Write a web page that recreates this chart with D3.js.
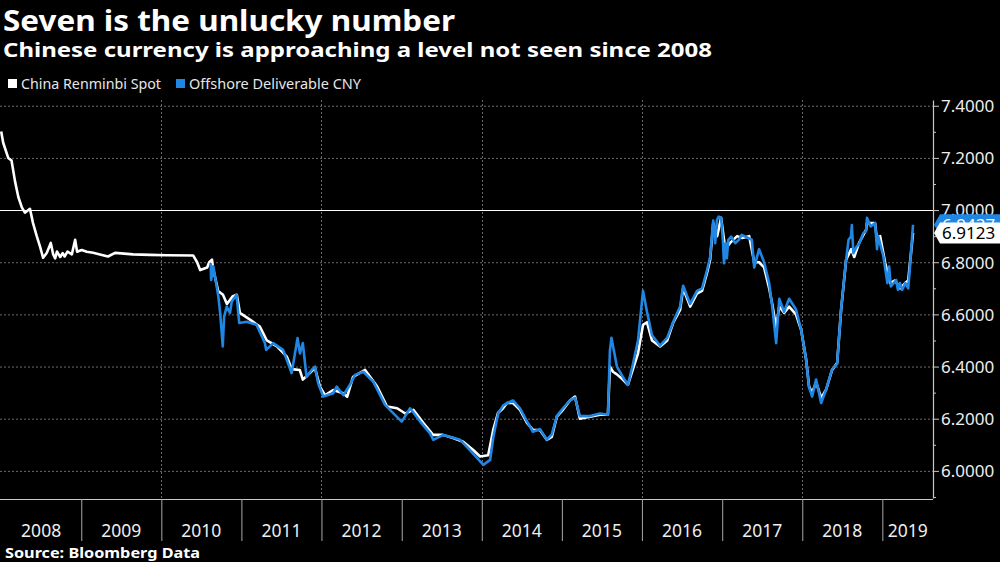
<!DOCTYPE html>
<html>
<head>
<meta charset="utf-8">
<script src="https://cdn.jsdelivr.net/npm/d3@7"></script>
<style>
  html, body { margin: 0; padding: 0; background: #000; }
  svg { display: block; }
</style>
</head>
<body>
<svg id="chart" width="1000" height="562"></svg>
<script>
// ---------------- DATA ----------------
const titleText = "Seven is the unlucky number";
const subtitleText = "Chinese currency is approaching a level not seen since 2008";
const sourceText = "Source: Bloomberg Data";
const seriesNames = ["China Renminbi Spot", "Offshore Deliverable CNY"];
const yearLabels = ["2008","2009","2010","2011","2012","2013","2014","2015","2016","2017","2018","2019"];
const yTicks = [6.0, 6.2, 6.4, 6.6, 6.8, 7.0, 7.2, 7.4];
const yMinorTicks = [5.9, 6.1, 6.3, 6.5, 6.7, 6.9, 7.1, 7.3];
const gridYears = ["2010","2012","2014","2016","2018"];
const refLevel = 7.0;
const lastOnshore = 6.9123;
const lastOffshore = 6.9437;

// China Renminbi Spot (onshore CNY)
const onshore = [
  ["2008-01-02",7.301],["2008-01-11",7.258],["2008-02-03",7.20],["2008-02-18",7.19],
  ["2008-03-05",7.11],["2008-03-20",7.05],["2008-04-05",7.01],["2008-04-19",6.99],
  ["2008-05-12",7.005],["2008-05-26",6.95],["2008-06-12",6.90],["2008-06-27",6.86],
  ["2008-07-11",6.817],["2008-07-28",6.836],["2008-08-15",6.874],["2008-08-26",6.83],
  ["2008-09-04",6.815],["2008-09-12",6.841],["2008-09-27",6.82],["2008-10-08",6.835],
  ["2008-10-17",6.822],["2008-10-30",6.841],["2008-11-19",6.83],["2008-12-04",6.886],
  ["2008-12-13",6.84],["2009-01-03",6.847],["2009-01-26",6.84],["2009-02-24",6.836],
  ["2009-03-27",6.83],["2009-05-03",6.822],["2009-06-04",6.836],["2009-08-25",6.83],
  ["2009-11-11",6.828],["2010-01-26",6.827],["2010-05-26",6.826],["2010-06-13",6.80],
  ["2010-06-27",6.77],["2010-07-29",6.78],["2010-08-07",6.80],["2010-08-20",6.81],
  ["2010-08-24",6.78],["2010-09-17",6.69],["2010-10-09",6.675],["2010-10-27",6.64],
  ["2010-11-23",6.67],["2010-12-11",6.675],["2010-12-25",6.606],["2011-02-09",6.58],
  ["2011-03-26",6.553],["2011-04-27",6.50],["2011-06-12",6.477],["2011-07-27",6.438],
  ["2011-08-19",6.39],["2011-09-24",6.387],["2011-10-08",6.35],["2011-11-09",6.375],
  ["2011-12-02",6.395],["2011-12-25",6.323],["2012-01-17",6.29],["2012-02-23",6.31],
  ["2012-04-09",6.298],["2012-04-27",6.284],["2012-05-24",6.36],["2012-07-18",6.387],
  ["2012-09-11",6.323],["2012-10-26",6.247],["2012-12-11",6.24],["2013-01-17",6.22],
  ["2013-02-23",6.234],["2013-04-09",6.184],["2013-05-24",6.138],["2013-07-08",6.138],
  ["2013-08-23",6.126],["2013-10-08",6.112],["2013-11-23",6.08],["2013-12-24",6.055],
  ["2014-01-30",6.06],["2014-02-22",6.157],["2014-03-16",6.222],["2014-04-08",6.24],
  ["2014-04-26",6.26],["2014-05-23",6.26],["2014-06-24",6.234],["2014-07-26",6.184],
  ["2014-08-22",6.157],["2014-09-23",6.157],["2014-10-24",6.119],["2014-11-16",6.13],
  ["2014-12-09",6.208],["2015-01-06",6.234],["2015-02-07",6.27],["2015-03-02",6.285],
  ["2015-03-24",6.20],["2015-05-09",6.208],["2015-06-24",6.215],["2015-07-30",6.215],
  ["2015-08-08",6.40],["2015-08-22",6.38],["2015-09-09",6.37],["2015-10-06",6.35],
  ["2015-10-29",6.33],["2015-11-21",6.39],["2015-12-14",6.45],["2016-01-06",6.56],
  ["2016-01-24",6.57],["2016-02-16",6.50],["2016-03-24",6.477],["2016-04-25",6.50],
  ["2016-05-22",6.567],["2016-06-23",6.617],["2016-07-07",6.70],["2016-08-08",6.63],
  ["2016-09-08",6.68],["2016-10-01",6.69],["2016-10-24",6.76],["2016-11-07",6.81],
  ["2016-11-21",6.95],["2016-12-09",6.90],["2016-12-27",6.97],["2017-01-15",6.85],
  ["2017-02-06",6.874],["2017-03-10",6.90],["2017-04-02",6.893],["2017-05-04",6.90],
  ["2017-05-27",6.80],["2017-06-18",6.80],["2017-07-11",6.78],["2017-08-03",6.70],
  ["2017-08-17",6.64],["2017-09-04",6.55],["2017-09-18",6.63],["2017-10-10",6.606],
  ["2017-11-02",6.63],["2017-12-03",6.60],["2017-12-27",6.54],["2018-01-18",6.43],
  ["2018-02-01",6.323],["2018-02-15",6.30],["2018-03-05",6.34],["2018-03-28",6.28],
  ["2018-04-19",6.31],["2018-05-17",6.387],["2018-06-09",6.414],["2018-06-27",6.617],
  ["2018-07-20",6.81],["2018-08-12",6.85],["2018-08-26",6.82],["2018-09-17",6.874],
  ["2018-10-19",6.924],["2018-10-23",6.95],["2018-11-29",6.95],["2018-12-08",6.88],
  ["2018-12-22",6.90],["2019-01-14",6.797],["2019-02-06",6.72],["2019-02-28",6.73],
  ["2019-03-23",6.70],["2019-04-15",6.72],["2019-04-29",6.73],["2019-05-21",6.9123]
];

// Offshore Deliverable CNY (CNH)
const offshore = [
  ["2010-08-14",6.796],["2010-08-16",6.732],["2010-08-26",6.784],["2010-09-18",6.668],
  ["2010-09-26",6.606],["2010-10-08",6.477],["2010-10-14",6.59],["2010-10-26",6.63],
  ["2010-11-10",6.606],["2010-11-18",6.649],["2010-12-10",6.675],["2010-12-22",6.567],
  ["2011-01-25",6.572],["2011-03-11",6.56],["2011-04-18",6.49],["2011-04-24",6.464],
  ["2011-05-26",6.49],["2011-07-10",6.464],["2011-08-18",6.375],["2011-09-14",6.509],
  ["2011-09-25",6.45],["2011-10-08",6.49],["2011-10-25",6.36],["2011-11-17",6.387],
  ["2011-12-02",6.40],["2011-12-17",6.336],["2012-01-09",6.285],["2012-02-24",6.298],
  ["2012-03-10",6.323],["2012-04-10",6.29],["2012-05-10",6.33],["2012-06-02",6.368],
  ["2012-07-10",6.38],["2012-08-24",6.342],["2012-10-17",6.253],["2012-11-16",6.227],
  ["2013-01-01",6.189],["2013-02-08",6.24],["2013-03-26",6.189],["2013-05-10",6.144],
  ["2013-05-25",6.119],["2013-07-10",6.138],["2013-09-24",6.119],["2013-11-08",6.08],
  ["2014-01-08",6.023],["2014-02-08",6.042],["2014-02-23",6.132],["2014-03-17",6.221],
  ["2014-04-08",6.25],["2014-04-26",6.26],["2014-05-23",6.27],["2014-06-24",6.24],
  ["2014-07-26",6.19],["2014-08-22",6.15],["2014-09-23",6.16],["2014-10-24",6.12],
  ["2014-11-16",6.14],["2014-12-09",6.21],["2015-01-06",6.24],["2015-02-07",6.27],
  ["2015-03-02",6.28],["2015-03-24",6.21],["2015-05-09",6.21],["2015-06-24",6.22],
  ["2015-07-30",6.215],["2015-08-08",6.46],["2015-08-15",6.51],["2015-09-09",6.40],
  ["2015-10-06",6.36],["2015-10-29",6.33],["2015-11-21",6.41],["2015-12-14",6.50],
  ["2016-01-06",6.69],["2016-01-24",6.61],["2016-02-16",6.52],["2016-03-24",6.48],
  ["2016-04-25",6.51],["2016-05-22",6.57],["2016-06-23",6.63],["2016-07-07",6.71],
  ["2016-08-08",6.64],["2016-09-08",6.69],["2016-10-01",6.70],["2016-10-24",6.77],
  ["2016-11-07",6.82],["2016-11-21",6.96],["2016-11-30",6.873],["2016-12-08",6.962],
  ["2016-12-16",6.975],["2016-12-27",6.97],["2017-01-04",6.886],["2017-01-09",6.796],
  ["2017-01-17",6.873],["2017-01-22",6.815],["2017-01-29",6.886],["2017-02-11",6.898],
  ["2017-03-01",6.873],["2017-03-18",6.886],["2017-03-31",6.905],["2017-05-06",6.89],
  ["2017-05-16",6.886],["2017-05-27",6.78],["2017-06-18",6.85],["2017-07-11",6.80],
  ["2017-08-03",6.72],["2017-08-17",6.63],["2017-09-04",6.49],["2017-09-18",6.66],
  ["2017-10-10",6.61],["2017-11-02",6.66],["2017-12-03",6.62],["2017-12-27",6.54],
  ["2018-01-18",6.43],["2018-02-01",6.32],["2018-02-15",6.285],["2018-03-05",6.35],
  ["2018-03-28",6.26],["2018-04-19",6.31],["2018-05-17",6.39],["2018-06-09",6.41],
  ["2018-06-27",6.62],["2018-07-20",6.81],["2018-07-31",6.886],["2018-08-11",6.898],
  ["2018-08-15",6.943],["2018-08-22",6.835],["2018-09-06",6.86],["2018-09-17",6.87],
  ["2018-10-06",6.911],["2018-10-19",6.92],["2018-10-23",6.97],["2018-11-09",6.937],
  ["2018-11-29",6.95],["2018-12-08",6.85],["2018-12-13",6.90],["2019-01-06",6.822],
  ["2019-01-24",6.72],["2019-02-01",6.783],["2019-02-09",6.707],["2019-03-05",6.732],
  ["2019-03-13",6.694],["2019-03-22",6.72],["2019-04-01",6.694],["2019-04-16",6.72],
  ["2019-04-29",6.70],["2019-05-07",6.783],["2019-05-21",6.9437]
];

// ---------------- STYLE ----------------
const WHITE = "#ffffff";
const BLUE = "#1f86e3";
const AXIS = "#c8c8c8";
const GRID = "#6a6a6a";
const FONT = "'Noto Sans', 'Open Sans', sans-serif";

const parse = d3.timeParse("%Y-%m-%d");
const toPts = arr => arr.map(d => ({date: parse(d[0]), value: d[1]}))
  .sort((a, b) => a.date - b.date);
const on = toPts(onshore);
const off = toPts(offshore);

const svg = d3.select("#chart");
svg.append("rect").attr("width", 1000).attr("height", 562).attr("fill", "#000");

const x = d3.scaleTime()
  .domain([new Date(2008, 0, 1), new Date(2019, 7, 20)])
  .range([1, 933]);
const y = d3.scaleLinear().domain([5.896, 7.422]).range([498, 100]);

const plotL = 0, plotR = 933, plotT = 100, plotB = 499;

// Title, subtitle
svg.append("text").attr("x", 3).attr("y", 31)
  .attr("fill", WHITE).attr("font-family", FONT).attr("font-weight", "bold")
  .attr("font-size", 29).attr("textLength", 452).attr("lengthAdjust", "spacingAndGlyphs")
  .text(titleText);
svg.append("text").attr("x", 3).attr("y", 57)
  .attr("fill", WHITE).attr("font-family", FONT).attr("font-weight", "bold")
  .attr("font-size", 19.5).attr("textLength", 709).attr("lengthAdjust", "spacingAndGlyphs")
  .text(subtitleText);

// Legend
const legendItems = [
  {name: seriesNames[0], color: WHITE, sx: 8, tx: 21, tw: 140},
  {name: seriesNames[1], color: BLUE, sx: 176, tx: 189, tw: 172}
];
legendItems.forEach(it => {
  svg.append("rect").attr("x", it.sx).attr("y", 79).attr("width", 9).attr("height", 9).attr("fill", it.color);
  svg.append("text").attr("x", it.tx).attr("y", 89)
    .attr("fill", "#e6e6e6").attr("font-family", FONT).attr("font-size", 14)
    .attr("textLength", it.tw).attr("lengthAdjust", "spacingAndGlyphs")
    .text(it.name);
});

// Grid: horizontal dotted
const gridG = svg.append("g");
gridG.selectAll("line.h").data(yTicks.filter(v => v !== refLevel)).join("line")
  .attr("x1", plotL).attr("x2", plotR)
  .attr("y1", d => y(d) + 0.5).attr("y2", d => y(d) + 0.5)
  .attr("stroke", GRID).attr("stroke-width", 1).attr("stroke-dasharray", "2,2");
// vertical dotted
gridG.selectAll("line.v").data(gridYears).join("line")
  .attr("x1", d => Math.round(x(new Date(+d, 0, 1))) + 0.5)
  .attr("x2", d => Math.round(x(new Date(+d, 0, 1))) + 0.5)
  .attr("y1", plotT).attr("y2", plotB)
  .attr("stroke", GRID).attr("stroke-width", 1).attr("stroke-dasharray", "2,2");

// Lines
const line = d3.line().x(d => x(d.date)).y(d => y(d.value)).curve(d3.curveLinear);
svg.append("path").datum(on).attr("d", line)
  .attr("fill", "none").attr("stroke", WHITE).attr("stroke-width", 2.6).attr("stroke-linejoin", "round");
svg.append("path").datum(off).attr("d", line)
  .attr("fill", "none").attr("stroke", BLUE).attr("stroke-width", 2.6).attr("stroke-linejoin", "round");

// Reference 7.0 solid line
svg.append("line").attr("x1", plotL).attr("x2", plotR)
  .attr("y1", Math.round(y(refLevel)) + 0.5).attr("y2", Math.round(y(refLevel)) + 0.5)
  .attr("stroke", WHITE).attr("stroke-width", 1.2);

// Bottom axis
const xAxisG = svg.append("g").attr("transform", `translate(0,${plotB})`);
xAxisG.append("line").attr("x1", 0).attr("x2", plotR).attr("y1", 0.5).attr("y2", 0.5)
  .attr("stroke", AXIS).attr("stroke-width", 1.2);
const yearStarts = yearLabels.map(yr => new Date(+yr, 0, 1));
const tickAxis = d3.axisBottom(x).tickValues(yearStarts.slice(1)).tickSize(42).tickFormat("");
const tg = xAxisG.append("g").call(tickAxis);
tg.select(".domain").remove();
tg.selectAll(".tick line").attr("stroke", "#a8a8a8").attr("stroke-width", 1);
const xEnd = x.domain()[1];
xAxisG.selectAll("text.year").data(yearLabels).join("text")
  .attr("class", "year")
  .attr("x", (d, i) => {
    const a = x(new Date(+d, 0, 1));
    const b = i < yearLabels.length - 1 ? x(new Date(+d + 1, 0, 1)) : x(xEnd);
    return (a + b) / 2;
  })
  .attr("y", 38).attr("text-anchor", "middle")
  .attr("fill", "#eeeeee").attr("font-family", FONT).attr("font-size", 17.5)
  .text(d => d);

// Right axis
const yAxisG = svg.append("g").attr("transform", `translate(${plotR},0)`);
const yAxis = d3.axisRight(y).tickValues(yTicks).tickSize(6).tickSizeOuter(0)
  .tickFormat(d3.format(".4f"));
yAxisG.call(yAxis);
yAxisG.select(".domain").attr("stroke", AXIS).attr("stroke-width", 1.2);
yAxisG.selectAll(".tick line").attr("stroke", AXIS);
yAxisG.selectAll(".tick text").attr("fill", "#eeeeee").attr("font-family", FONT)
  .attr("font-size", 17).attr("x", 8).attr("dy", "0.34em");
const minorG = svg.append("g").attr("transform", `translate(${plotR},0)`)
  .call(d3.axisRight(y).tickValues(yMinorTicks).tickSize(3).tickFormat(""));
minorG.select(".domain").remove();
minorG.selectAll(".tick line").attr("stroke", AXIS);

// Last-value tags (blue one sits partly behind the white one, as in the original)
function tag(value, fill, textColor, label, clipTop) {
  const cy = y(value);
  const h = 21, x0 = 934, x1 = 1000;
  const g = svg.append("g");
  g.append("path")
    .attr("d", `M${x0},${cy} L${x0 + 6},${cy - h / 2} L${x1},${cy - h / 2} L${x1},${cy + h / 2} L${x0 + 6},${cy + h / 2} Z`)
    .attr("fill", fill);
  g.append("text").attr("x", 942).attr("y", cy).attr("dy", "0.36em")
    .attr("fill", textColor).attr("font-family", FONT).attr("font-size", 17)
    .text(label);
}
tag(lastOffshore, BLUE, WHITE, d3.format(".4f")(lastOffshore));
tag(lastOnshore, WHITE, "#000", d3.format(".4f")(lastOnshore));

// Source
svg.append("text").attr("x", 5).attr("y", 558)
  .attr("fill", WHITE).attr("font-family", FONT).attr("font-weight", "bold")
  .attr("font-size", 15).attr("textLength", 195).attr("lengthAdjust", "spacingAndGlyphs")
  .text(sourceText);
</script>
</body>
</html>
